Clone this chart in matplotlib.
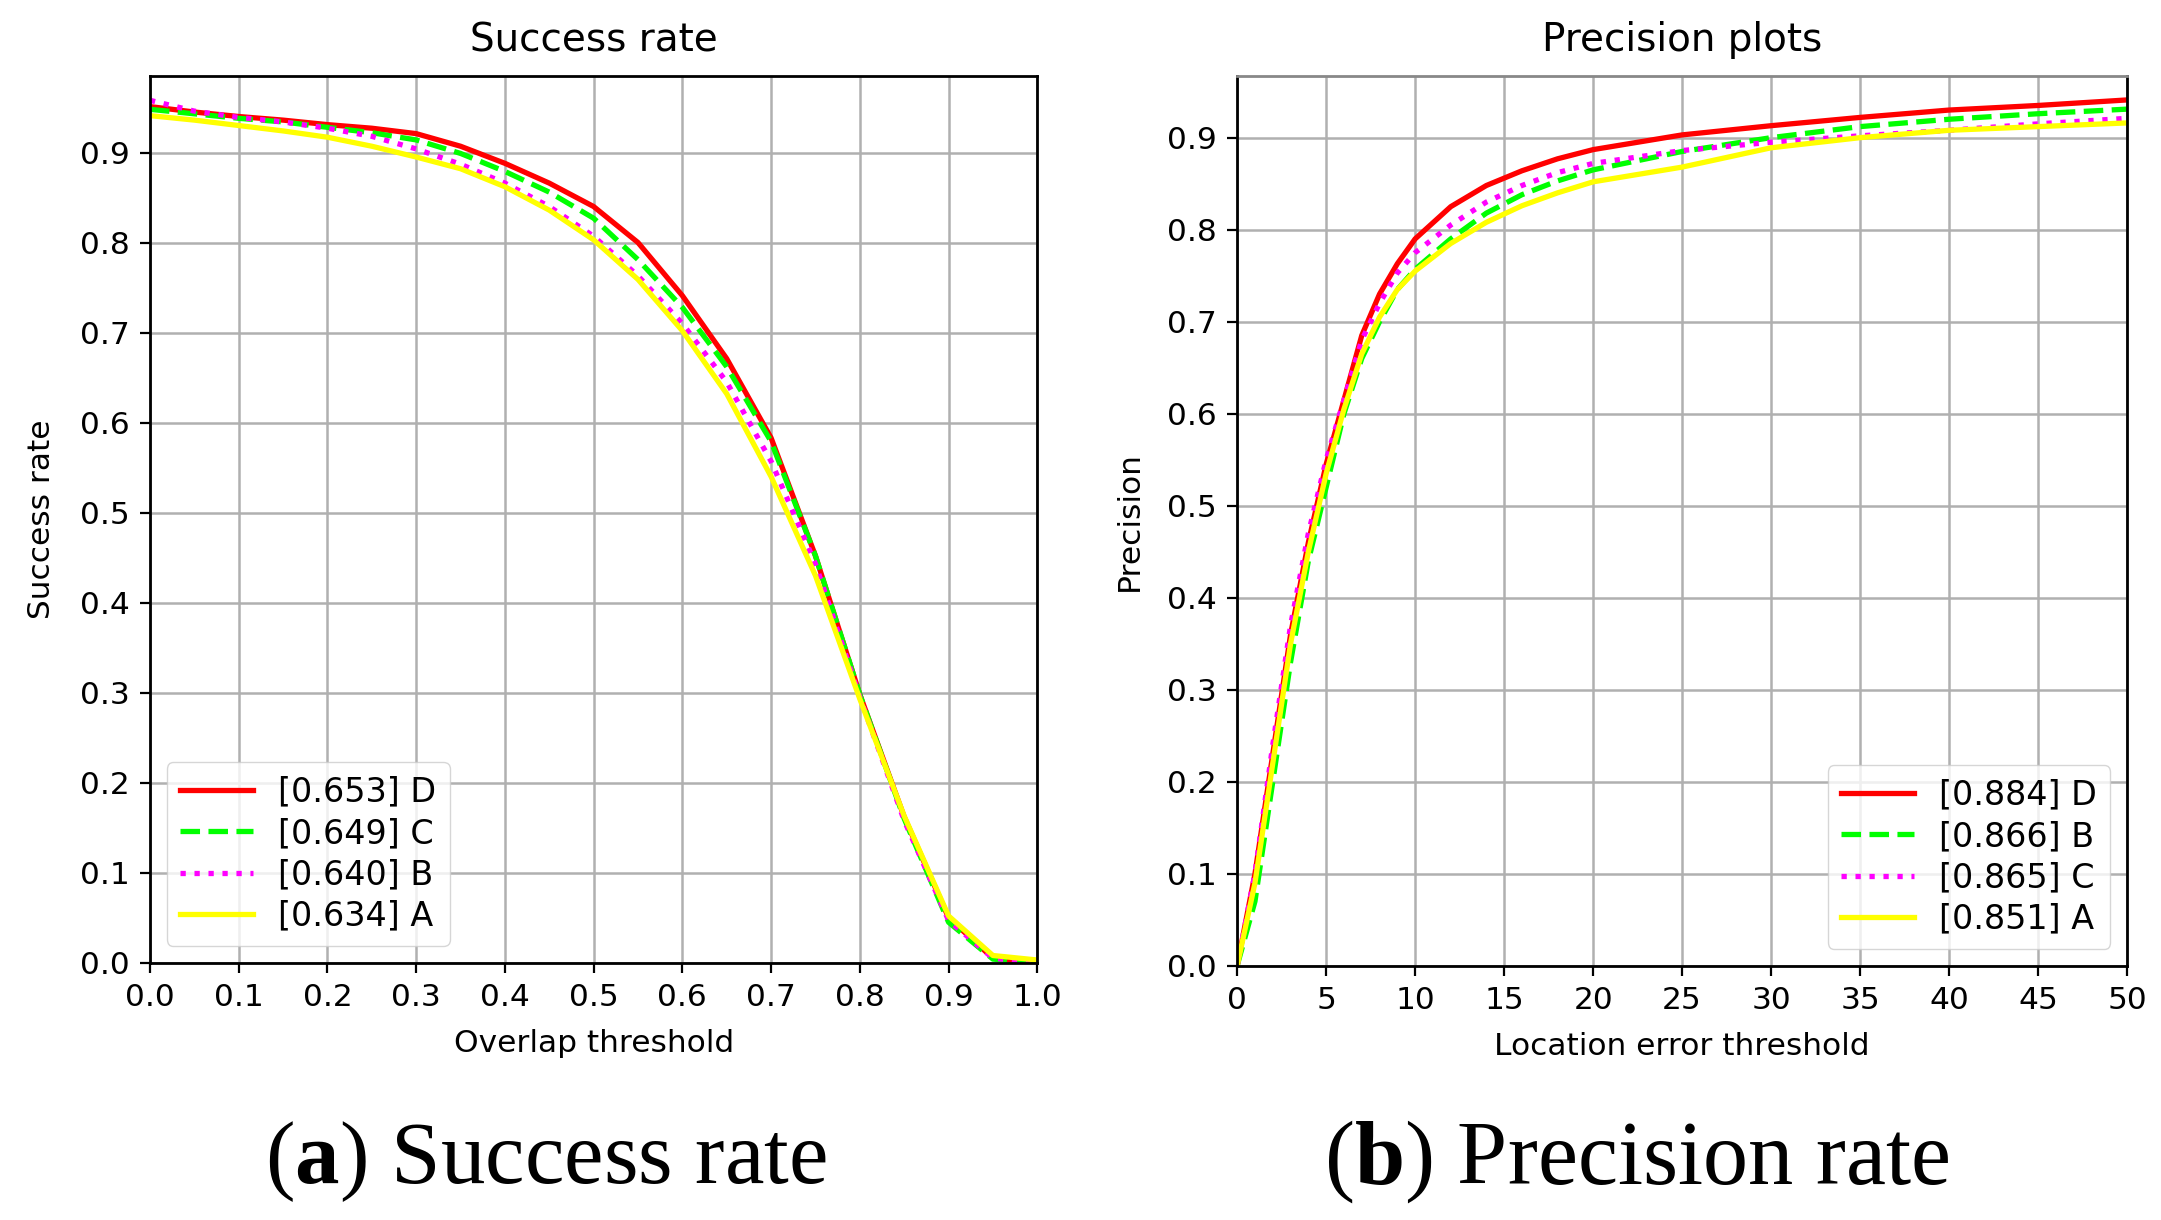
import numpy as np
import matplotlib
matplotlib.use("Agg")
import matplotlib.pyplot as plt

plt.rcParams['font.family'] = ['DejaVu Sans']
plt.rcParams['mathtext.fontset'] = 'custom'
plt.rcParams['mathtext.rm'] = 'Liberation Serif'
plt.rcParams['mathtext.bf'] = 'Liberation Serif:bold'

# success plot (overlap threshold)
overlap = [0.0, 0.05, 0.1, 0.15, 0.2, 0.25, 0.3, 0.35, 0.4, 0.45, 0.5,
           0.55, 0.6, 0.65, 0.7, 0.75, 0.8, 0.85, 0.9, 0.95, 1.0]
succ_D = [0.951, 0.945, 0.940, 0.936, 0.931, 0.927, 0.921, 0.907, 0.888, 0.866, 0.840,
          0.800, 0.741, 0.671, 0.583, 0.452, 0.298, 0.162, 0.050, 0.005, 0.0]
succ_C = [0.948, 0.943, 0.938, 0.934, 0.928, 0.922, 0.914, 0.899, 0.879, 0.856, 0.827,
          0.781, 0.728, 0.662, 0.579, 0.452, 0.298, 0.160, 0.045, 0.004, 0.0]
succ_B = [0.958, 0.946, 0.939, 0.934, 0.927, 0.918, 0.904, 0.887, 0.866, 0.840, 0.807,
          0.763, 0.710, 0.645, 0.557, 0.443, 0.295, 0.158, 0.047, 0.005, 0.0]
succ_A = [0.941, 0.936, 0.930, 0.924, 0.917, 0.907, 0.895, 0.882, 0.862, 0.836, 0.803,
          0.759, 0.702, 0.632, 0.540, 0.430, 0.293, 0.163, 0.052, 0.008, 0.003]
succ_labels = ['[0.653] D', '[0.649] C', '[0.640] B', '[0.634] A']

# precision plot (location error threshold)
loc_err = [0, 1, 2, 3, 4, 5, 6, 7, 8, 9, 10, 12, 14, 16, 18, 20, 25, 30, 35, 40, 45, 50]
prec_D = [0.0, 0.10, 0.23, 0.36, 0.46, 0.545, 0.615, 0.685, 0.730, 0.763, 0.790, 0.825,
          0.848, 0.864, 0.877, 0.887, 0.903, 0.913, 0.922, 0.930, 0.935, 0.941]
prec_B = [0.0, 0.07, 0.20, 0.33, 0.44, 0.520, 0.600, 0.660, 0.700, 0.735, 0.757, 0.790,
          0.818, 0.838, 0.853, 0.865, 0.885, 0.900, 0.912, 0.920, 0.926, 0.931]
prec_C = [0.0, 0.10, 0.24, 0.37, 0.47, 0.550, 0.615, 0.680, 0.720, 0.753, 0.775, 0.805,
          0.830, 0.848, 0.862, 0.872, 0.886, 0.895, 0.902, 0.908, 0.915, 0.921]
prec_A = [0.0, 0.09, 0.22, 0.35, 0.45, 0.535, 0.605, 0.665, 0.705, 0.735, 0.755, 0.785,
          0.808, 0.826, 0.840, 0.852, 0.868, 0.889, 0.900, 0.908, 0.912, 0.916]
prec_labels = ['[0.884] D', '[0.866] B', '[0.865] C', '[0.851] A']

colors = ['red', '#00ff00', 'magenta', 'yellow']
styles = ['-', '--', ':', '-']
lw = 3.8
fs = 22.5

fig = plt.figure(figsize=(21.61, 12.20), dpi=100)
ax1 = fig.add_axes([0.0694, 0.2109, 0.4106, 0.7268])
ax2 = fig.add_axes([0.5725, 0.2084, 0.4118, 0.7293])


def style_ax(ax):
    ax.grid(True, color='#b0b0b0', linewidth=1.8)
    ax.set_axisbelow(True)
    for sp in ax.spines.values():
        sp.set_linewidth(2)
    ax.tick_params(labelsize=fs, length=7.5, width=1.6, pad=7)


for ys, c, st, lab in zip([succ_D, succ_C, succ_B, succ_A], colors, styles, succ_labels):
    ax1.plot(overlap, ys, color=c, linestyle=st, linewidth=lw, label=lab)
ax1.set_xlim(0, 1)
ax1.set_ylim(0, 0.985)
ax1.set_xticks(np.arange(0, 1.01, 0.1))
ax1.set_yticks(np.arange(0, 0.91, 0.1))
ax1.set_title('Success rate', fontsize=28, pad=18)
ax1.set_xlabel('Overlap threshold', fontsize=fs, labelpad=12)
ax1.set_ylabel('Success rate', fontsize=fs, labelpad=17)
style_ax(ax1)
ax1.legend(loc='lower left', fontsize=24, handlelength=2.2, labelspacing=0.25,
           handletextpad=0.75)

for ys, c, st, lab in zip([prec_D, prec_B, prec_C, prec_A], colors, styles, prec_labels):
    ax2.plot(loc_err, ys, color=c, linestyle=st, linewidth=lw, label=lab)
ax2.set_xlim(0, 50)
ax2.set_ylim(0, 0.967)
ax2.set_xticks(np.arange(0, 51, 5))
ax2.set_yticks(np.arange(0, 0.91, 0.1))
ax2.set_title('Precision plots', fontsize=28, pad=18)
ax2.set_xlabel('Location error threshold', fontsize=fs, labelpad=12)
ax2.set_ylabel('Precision', fontsize=fs, labelpad=17)
style_ax(ax2)
ax2.spines['top'].set_color('#888888')
ax2.legend(loc='lower right', fontsize=24, handlelength=2.2, labelspacing=0.25,
           handletextpad=0.75)

fig.text(0.2527, 0.048, r'($\mathbf{a}$) Success rate', family='Liberation Serif',
         fontsize=64, ha='center', va='center')
fig.text(0.7575, 0.048, r'($\mathbf{b}$) Precision rate', family='Liberation Serif',
         fontsize=65, ha='center', va='center')

fig.savefig('out.png', dpi=100)
